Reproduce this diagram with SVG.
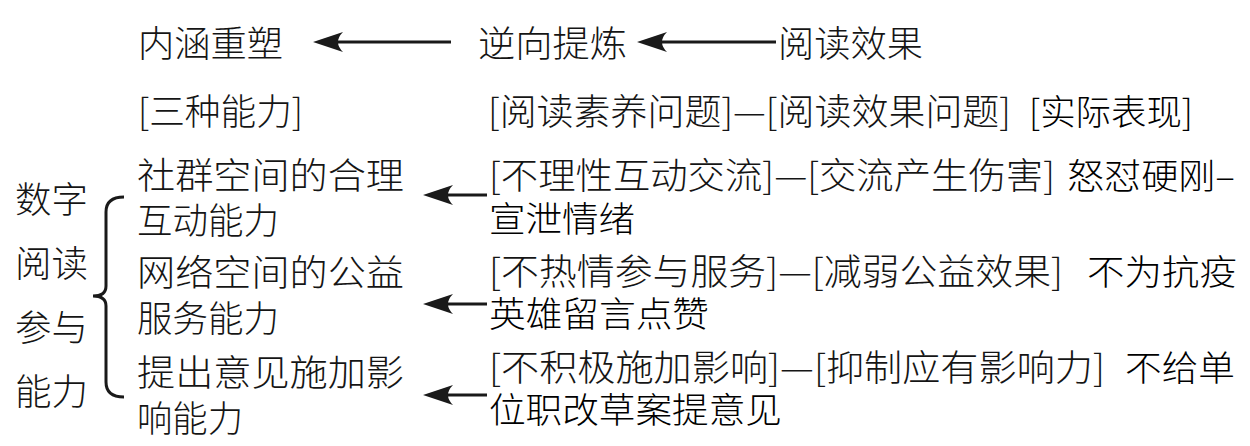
<svg xmlns="http://www.w3.org/2000/svg" width="1250" height="446" viewBox="0 0 1250 446">
<style>
text{font-family:"Noto Sans CJK SC","Noto Sans CJK JP",sans-serif;font-size:36px;font-weight:300;fill:#151515}
.k{font-size:35px;fill:#000}
.ln{stroke:#1a1a1a;stroke-width:3;fill:none}
</style>
<defs>
<marker id="ah" markerUnits="userSpaceOnUse" markerWidth="32" markerHeight="22" refX="7" refY="10" orient="auto" overflow="visible">
<path d="M30,10 L0,0 Q10,10 0,20 Z" fill="#1a1a1a"/>
</marker>
</defs>
<rect width="1250" height="446" fill="#fff"/>
<g id="top-row">
<g id="n-neihan"><text x="138" y="57" textLength="145" lengthAdjust="spacingAndGlyphs">内涵重塑</text></g>
<g id="n-nixiang"><text x="478" y="57" textLength="149" lengthAdjust="spacingAndGlyphs">逆向提炼</text></g>
<g id="n-xiaoguo"><text x="778" y="57" textLength="145" lengthAdjust="spacingAndGlyphs">阅读效果</text></g>
</g>
<g id="header-row">
<g id="n-sanzhong"><text x="138" y="125" textLength="165" lengthAdjust="spacingAndGlyphs">[三种能力]</text></g>
<g id="n-wenti"><text x="488" y="125" textLength="523" lengthAdjust="spacingAndGlyphs">[阅读素养问题]—[阅读效果问题]</text><text class="k" x="1029" y="125" textLength="164" lengthAdjust="spacingAndGlyphs">[实际表现]</text></g>
</g>
<g id="n-left">
<text x="15" y="213" textLength="73" lengthAdjust="spacingAndGlyphs">数字</text>
<text x="15" y="277" textLength="73" lengthAdjust="spacingAndGlyphs">阅读</text>
<text x="15" y="341" textLength="73" lengthAdjust="spacingAndGlyphs">参与</text>
<text x="15" y="405" textLength="73" lengthAdjust="spacingAndGlyphs">能力</text>
</g>
<g id="n-brace">
<path class="ln" d="M124,197 Q106,197 106,212 L106,286 Q106,296 93,296 Q106,296 106,306 L106,382 Q106,397 124,397"/>
</g>
<g id="n-ability1">
<text x="137" y="189" textLength="267" lengthAdjust="spacingAndGlyphs">社群空间的合理</text>
<text x="137" y="234" textLength="142" lengthAdjust="spacingAndGlyphs">互动能力</text>
</g>
<g id="n-ability2">
<text x="137" y="286" textLength="267" lengthAdjust="spacingAndGlyphs">网络空间的公益</text>
<text x="137" y="332" textLength="142" lengthAdjust="spacingAndGlyphs">服务能力</text>
</g>
<g id="n-ability3">
<text x="137" y="386" textLength="267" lengthAdjust="spacingAndGlyphs">提出意见施加影</text>
<text x="137" y="432" textLength="106" lengthAdjust="spacingAndGlyphs">响能力</text>
</g>
<g id="n-problem1">
<text x="489" y="189" textLength="566" lengthAdjust="spacingAndGlyphs">[不理性互动交流]—[交流产生伤害]</text>
<text class="k" x="1067" y="189" textLength="168" lengthAdjust="spacingAndGlyphs">怒怼硬刚–</text>
<text class="k" x="489" y="232" textLength="146" lengthAdjust="spacingAndGlyphs">宣泄情绪</text>
</g>
<g id="n-problem2">
<text x="489" y="285" textLength="574" lengthAdjust="spacingAndGlyphs">[不热情参与服务]—[减弱公益效果]</text>
<text class="k" x="1087" y="285" textLength="150" lengthAdjust="spacingAndGlyphs">不为抗疫</text>
<text class="k" x="489" y="327" textLength="220" lengthAdjust="spacingAndGlyphs">英雄留言点赞</text>
</g>
<g id="n-problem3">
<text x="489" y="381" textLength="616" lengthAdjust="spacingAndGlyphs">[不积极施加影响]—[抑制应有影响力]</text>
<text class="k" x="1125" y="381" textLength="110" lengthAdjust="spacingAndGlyphs">不给单</text>
<text class="k" x="489" y="423" textLength="293" lengthAdjust="spacingAndGlyphs">位职改草案提意见</text>
</g>
<g id="connectors">
<line class="ln" x1="451" y1="42" x2="336" y2="42" marker-end="url(#ah)"/>
<line class="ln" x1="776" y1="42" x2="660" y2="42" marker-end="url(#ah)"/>
<line class="ln" x1="487" y1="195" x2="446" y2="195" marker-end="url(#ah)"/>
<line class="ln" x1="487" y1="304" x2="446" y2="304" marker-end="url(#ah)"/>
<line class="ln" x1="487" y1="395" x2="446" y2="395" marker-end="url(#ah)"/>
</g>
</svg>
